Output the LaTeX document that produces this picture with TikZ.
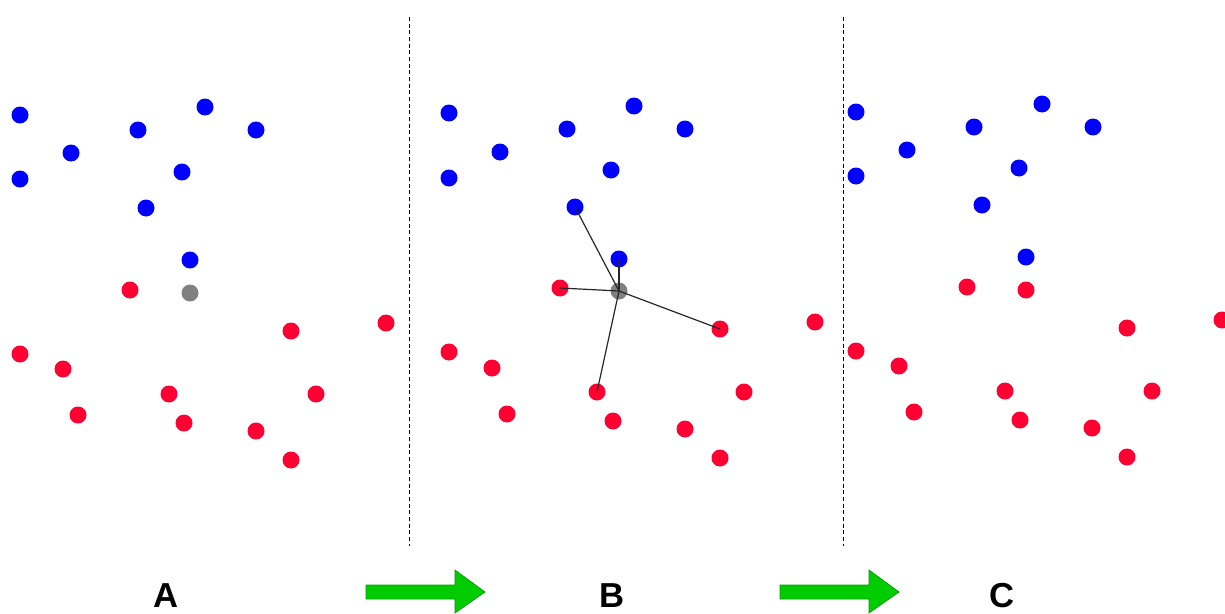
\documentclass[tikz,border=0pt]{standalone}
\usepackage{fontspec}
\setmainfont{Liberation Sans}
\definecolor{dotblue}{HTML}{0000FF}
\definecolor{dotred}{HTML}{FF0033}
\definecolor{dotgray}{HTML}{808080}
\definecolor{arrgreen}{HTML}{00CC00}
\definecolor{arrline}{HTML}{009900}
\begin{document}
\begin{tikzpicture}[x=0.75pt,y=-0.75pt,
  dot/.style={circle,inner sep=0pt,minimum size=12.75pt},
  bdot/.style={dot,fill=dotblue},
  rdot/.style={dot,fill=dotred},
  gdot/.style={dot,fill=dotgray},
  sep/.style={dashed,line width=0.75pt,dash pattern=on 3pt off 2pt},
  nnline/.style={line width=0.9pt,black!85},
  lbl/.style={font=\bfseries\fontsize{26}{30}\selectfont,inner sep=0pt},
  garrow/.style={fill=arrgreen,draw=arrline,line width=0.5pt,line join=miter}]
\useasboundingbox (0,0) rectangle (1225,614);
% separators
\coordinate (s1a) at (409,17); \coordinate (s1b) at (409,546);
\coordinate (s2a) at (843,17); \coordinate (s2b) at (843,546);
\draw[sep] (s1a) -- (s1b);
\draw[sep] (s2a) -- (s2b);
% Panel A
\node[bdot] (a1) at (20,115) {};
\node[bdot] (a2) at (20,179) {};
\node[bdot] (a3) at (71,153) {};
\node[bdot] (a4) at (138,130) {};
\node[bdot] (a5) at (205,107) {};
\node[bdot] (a6) at (256,130) {};
\node[bdot] (a7) at (182,172) {};
\node[bdot] (a8) at (146,208) {};
\node[bdot] (a9) at (190,260) {};
\node[gdot] (ag) at (190,293) {};
\node[rdot] (ar1) at (130,290) {};
\node[rdot] (ar2) at (291,331) {};
\node[rdot] (ar3) at (386,323) {};
\node[rdot] (ar4) at (20,354) {};
\node[rdot] (ar5) at (63,369) {};
\node[rdot] (ar6) at (78,415) {};
\node[rdot] (ar7) at (169,394) {};
\node[rdot] (ar8) at (184,423) {};
\node[rdot] (ar9) at (256,431) {};
\node[rdot] (ar10) at (316,394) {};
\node[rdot] (ar11) at (291,460) {};
% Panel B
\node[bdot] (b1) at (449,113) {};
\node[bdot] (b2) at (449,178) {};
\node[bdot] (b3) at (500,152) {};
\node[bdot] (b4) at (567,129) {};
\node[bdot] (b5) at (634,106) {};
\node[bdot] (b6) at (685,129) {};
\node[bdot] (b7) at (611,170) {};
\node[bdot] (b8) at (575,207) {};
\node[bdot] (b9) at (619,259) {};
\node[gdot] (bg) at (619,291) {};
\node[rdot] (br1) at (560,288) {};
\node[rdot] (br2) at (720,329) {};
\node[rdot] (br3) at (815,322) {};
\node[rdot] (br4) at (449,352) {};
\node[rdot] (br5) at (492,368) {};
\node[rdot] (br6) at (507,414) {};
\node[rdot] (br7) at (597,392) {};
\node[rdot] (br8) at (613,421) {};
\node[rdot] (br9) at (685,429) {};
\node[rdot] (br10) at (744,392) {};
\node[rdot] (br11) at (720,458) {};
\draw[nnline] (bg.center) -- (b8.center);
\draw[nnline] (bg.center) -- (b9.center);
\draw[nnline] (bg.center) -- (br1.center);
\draw[nnline] (bg.center) -- (br2.center);
\draw[nnline] (bg.center) -- (br7.center);
% Panel C
\node[bdot] (c1) at (856,112) {};
\node[bdot] (c2) at (856,176) {};
\node[bdot] (c3) at (907,150) {};
\node[bdot] (c4) at (974,127) {};
\node[bdot] (c5) at (1042,104) {};
\node[bdot] (c6) at (1093,127) {};
\node[bdot] (c7) at (1019,168) {};
\node[bdot] (c8) at (982,205) {};
\node[bdot] (c9) at (1026,257) {};
\node[rdot] (cg) at (1026,290) {};
\node[rdot] (cr1) at (967,287) {};
\node[rdot] (cr2) at (1127,328) {};
\node[rdot] (cr3) at (1222,320) {};
\node[rdot] (cr4) at (856,351) {};
\node[rdot] (cr5) at (899,366) {};
\node[rdot] (cr6) at (914,412) {};
\node[rdot] (cr7) at (1005,391) {};
\node[rdot] (cr8) at (1020,420) {};
\node[rdot] (cr9) at (1092,428) {};
\node[rdot] (cr10) at (1152,391) {};
\node[rdot] (cr11) at (1127,457) {};
% labels
\node[lbl] (la) at (166,596) {A};
\node[lbl] (lb) at (612,596) {B};
\node[lbl] (lc) at (1002,596) {C};
% green arrows
\draw[garrow] (366,585) -- (455,585) -- (455,570) -- (485,592) -- (455,613) -- (455,599) -- (366,599) -- cycle;
\draw[garrow] (780,585) -- (869,585) -- (869,570) -- (899,592) -- (869,613) -- (869,599) -- (780,599) -- cycle;
\end{tikzpicture}
\end{document}
